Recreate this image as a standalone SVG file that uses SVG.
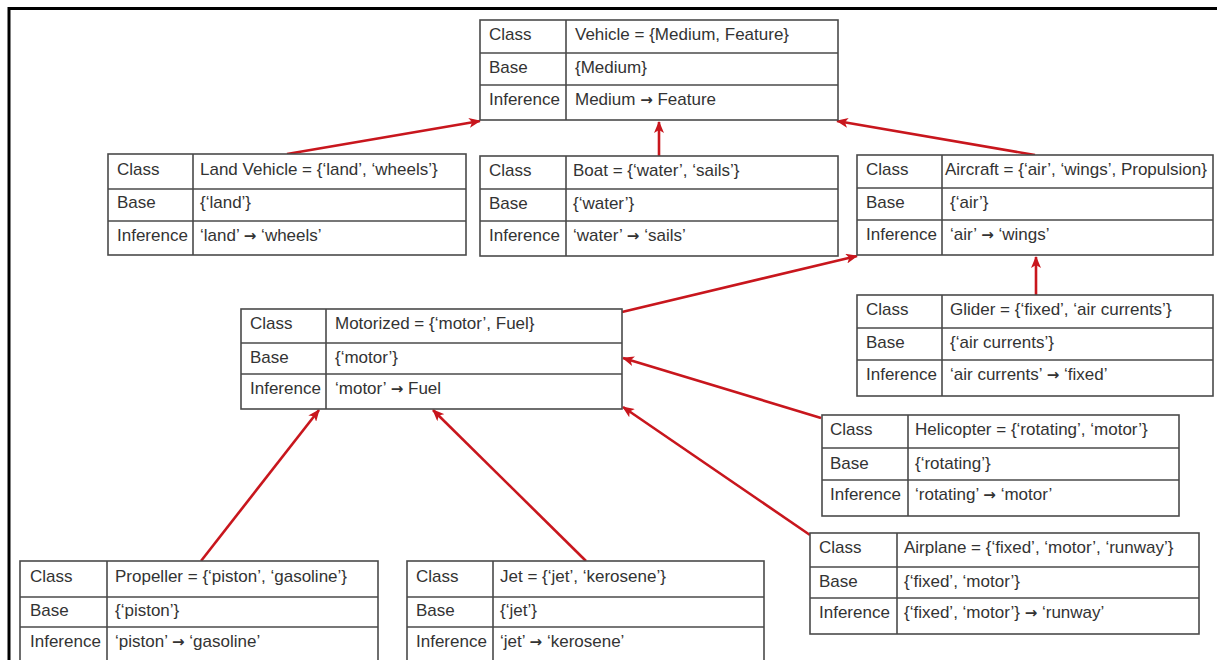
<svg xmlns="http://www.w3.org/2000/svg" width="1217" height="660" viewBox="0 0 1217 660">
  <defs>
    <style>
      .box { fill: #ffffff; stroke: #4a4a4a; stroke-width: 1.6; }
      .rule { stroke: #4a4a4a; stroke-width: 1.6; }
      .t { font-family: "Liberation Sans", Arial, sans-serif; font-size: 17px; fill: #333333; }
      .ar { font-family: "DejaVu Sans", sans-serif; font-weight: bold; font-size: 15px; }
      .link { stroke: #c8161d; stroke-width: 2.6; fill: none; marker-end: url(#head); }
    </style>
    <marker id="head" viewBox="0 0 12 10" refX="11" refY="5" markerWidth="12" markerHeight="10" markerUnits="userSpaceOnUse" orient="auto">
      <path d="M0,0 L12,5 L0,10 L3,5 z" fill="#c8161d"/>
    </marker>
  </defs>
  <rect width="1217" height="660" fill="#ffffff"/>
  <!-- frame -->
  <path d="M9,660 L9,8.5 L1217,8.5" fill="none" stroke="#000000" stroke-width="3"/>

  <!-- connectors -->
  <g id="connectors">
    <line class="link" x1="287" y1="154" x2="480" y2="121"/>
    <line class="link" x1="659" y1="156" x2="659" y2="122"/>
    <line class="link" x1="1035" y1="155" x2="837" y2="121"/>
    <line class="link" x1="622" y1="312" x2="857" y2="256"/>
    <line class="link" x1="1036" y1="295" x2="1036" y2="257"/>
    <line class="link" x1="821" y1="418" x2="623" y2="358"/>
    <line class="link" x1="810" y1="535" x2="623" y2="407"/>
    <line class="link" x1="201" y1="561" x2="319" y2="410"/>
    <line class="link" x1="586" y1="561" x2="433" y2="410"/>
  </g>

  <!-- Vehicle -->
  <g id="vehicle">
    <rect class="box" x="480" y="20" width="358" height="100"/>
    <line class="rule" x1="566" y1="20" x2="566" y2="120"/>
    <line class="rule" x1="480" y1="53" x2="838" y2="53"/>
    <line class="rule" x1="480" y1="85" x2="838" y2="85"/>
    <text class="t" x="489" y="40">Class</text>
    <text class="t" x="575" y="40">Vehicle = {Medium, Feature}</text>
    <text class="t" x="489" y="73">Base</text>
    <text class="t" x="575" y="73">{Medium}</text>
    <text class="t" x="489" y="105">Inference</text>
    <text class="t" x="575" y="105">Medium <tspan class="ar">→</tspan> Feature</text>
  </g>

  <!-- Land Vehicle -->
  <g id="land-vehicle">
    <rect class="box" x="108" y="154" width="358" height="101"/>
    <line class="rule" x1="193" y1="154" x2="193" y2="255"/>
    <line class="rule" x1="108" y1="189" x2="466" y2="189"/>
    <line class="rule" x1="108" y1="221" x2="466" y2="221"/>
    <text class="t" x="117" y="175">Class</text>
    <text class="t" x="200" y="175">Land Vehicle = {‘land’, ‘wheels’}</text>
    <text class="t" x="117" y="208">Base</text>
    <text class="t" x="200" y="208">{‘land’}</text>
    <text class="t" x="117" y="241">Inference</text>
    <text class="t" x="200" y="241">‘land’ <tspan class="ar">→</tspan> ‘wheels’</text>
  </g>

  <!-- Boat -->
  <g id="boat">
    <rect class="box" x="480" y="156" width="358" height="100"/>
    <line class="rule" x1="566" y1="156" x2="566" y2="256"/>
    <line class="rule" x1="480" y1="189" x2="838" y2="189"/>
    <line class="rule" x1="480" y1="221" x2="838" y2="221"/>
    <text class="t" x="489" y="176">Class</text>
    <text class="t" x="573" y="176">Boat = {‘water’, ‘sails’}</text>
    <text class="t" x="489" y="209">Base</text>
    <text class="t" x="573" y="209">{‘water’}</text>
    <text class="t" x="489" y="241">Inference</text>
    <text class="t" x="573" y="241">‘water’ <tspan class="ar">→</tspan> ‘sails’</text>
  </g>

  <!-- Aircraft -->
  <g id="aircraft">
    <rect class="box" x="857" y="155" width="356" height="100"/>
    <line class="rule" x1="942" y1="155" x2="942" y2="255"/>
    <line class="rule" x1="857" y1="188" x2="1213" y2="188"/>
    <line class="rule" x1="857" y1="220" x2="1213" y2="220"/>
    <text class="t" x="866" y="175">Class</text>
    <text class="t" x="945" y="175">Aircraft = {‘air’, ‘wings’, Propulsion}</text>
    <text class="t" x="866" y="208">Base</text>
    <text class="t" x="950" y="208">{‘air’}</text>
    <text class="t" x="866" y="240">Inference</text>
    <text class="t" x="950" y="240">‘air’ <tspan class="ar">→</tspan> ‘wings’</text>
  </g>

  <!-- Glider -->
  <g id="glider">
    <rect class="box" x="857" y="295" width="356" height="101"/>
    <line class="rule" x1="942" y1="295" x2="942" y2="396"/>
    <line class="rule" x1="857" y1="328" x2="1213" y2="328"/>
    <line class="rule" x1="857" y1="360" x2="1213" y2="360"/>
    <text class="t" x="866" y="315">Class</text>
    <text class="t" x="950" y="315">Glider = {‘fixed’, ‘air currents’}</text>
    <text class="t" x="866" y="348">Base</text>
    <text class="t" x="950" y="348">{‘air currents’}</text>
    <text class="t" x="866" y="380">Inference</text>
    <text class="t" x="950" y="380">‘air currents’ <tspan class="ar">→</tspan> ‘fixed’</text>
  </g>

  <!-- Motorized -->
  <g id="motorized">
    <rect class="box" x="241" y="309" width="381" height="100"/>
    <line class="rule" x1="326" y1="309" x2="326" y2="409"/>
    <line class="rule" x1="241" y1="343" x2="622" y2="343"/>
    <line class="rule" x1="241" y1="374" x2="622" y2="374"/>
    <text class="t" x="250" y="329">Class</text>
    <text class="t" x="335" y="329">Motorized = {‘motor’, Fuel}</text>
    <text class="t" x="250" y="363">Base</text>
    <text class="t" x="335" y="363">{‘motor’}</text>
    <text class="t" x="250" y="394">Inference</text>
    <text class="t" x="335" y="394">‘motor’ <tspan class="ar">→</tspan> Fuel</text>
  </g>

  <!-- Helicopter -->
  <g id="helicopter">
    <rect class="box" x="822" y="415" width="357" height="101"/>
    <line class="rule" x1="908" y1="415" x2="908" y2="516"/>
    <line class="rule" x1="822" y1="448" x2="1179" y2="448"/>
    <line class="rule" x1="822" y1="480" x2="1179" y2="480"/>
    <text class="t" x="830" y="435">Class</text>
    <text class="t" x="915" y="435">Helicopter = {‘rotating’, ‘motor’}</text>
    <text class="t" x="830" y="469">Base</text>
    <text class="t" x="915" y="469">{‘rotating’}</text>
    <text class="t" x="830" y="500">Inference</text>
    <text class="t" x="915" y="500">‘rotating’ <tspan class="ar">→</tspan> ‘motor’</text>
  </g>

  <!-- Airplane -->
  <g id="airplane">
    <rect class="box" x="810" y="533" width="389" height="101"/>
    <line class="rule" x1="897" y1="533" x2="897" y2="634"/>
    <line class="rule" x1="810" y1="567" x2="1199" y2="567"/>
    <line class="rule" x1="810" y1="598" x2="1199" y2="598"/>
    <text class="t" x="819" y="553">Class</text>
    <text class="t" x="904" y="553">Airplane = {‘fixed’, ‘motor’, ‘runway’}</text>
    <text class="t" x="819" y="587">Base</text>
    <text class="t" x="904" y="587">{‘fixed’, ‘motor’}</text>
    <text class="t" x="819" y="618">Inference</text>
    <text class="t" x="904" y="618">{‘fixed’, ‘motor’} <tspan class="ar">→</tspan> ‘runway’</text>
  </g>

  <!-- Propeller -->
  <g id="propeller">
    <rect class="box" x="20" y="561" width="358" height="110"/>
    <line class="rule" x1="107" y1="561" x2="107" y2="671"/>
    <line class="rule" x1="20" y1="597" x2="378" y2="597"/>
    <line class="rule" x1="20" y1="627" x2="378" y2="627"/>
    <text class="t" x="30" y="582">Class</text>
    <text class="t" x="115" y="582">Propeller = {‘piston’, ‘gasoline’}</text>
    <text class="t" x="30" y="616">Base</text>
    <text class="t" x="115" y="616">{‘piston’}</text>
    <text class="t" x="30" y="647">Inference</text>
    <text class="t" x="115" y="647">‘piston’ <tspan class="ar">→</tspan> ‘gasoline’</text>
  </g>

  <!-- Jet -->
  <g id="jet">
    <rect class="box" x="407" y="561" width="357" height="110"/>
    <line class="rule" x1="493" y1="561" x2="493" y2="671"/>
    <line class="rule" x1="407" y1="597" x2="764" y2="597"/>
    <line class="rule" x1="407" y1="627" x2="764" y2="627"/>
    <text class="t" x="416" y="582">Class</text>
    <text class="t" x="500" y="582">Jet = {‘jet’, ‘kerosene’}</text>
    <text class="t" x="416" y="616">Base</text>
    <text class="t" x="500" y="616">{‘jet’}</text>
    <text class="t" x="416" y="647">Inference</text>
    <text class="t" x="500" y="647">‘jet’ <tspan class="ar">→</tspan> ‘kerosene’</text>
  </g>
</svg>
